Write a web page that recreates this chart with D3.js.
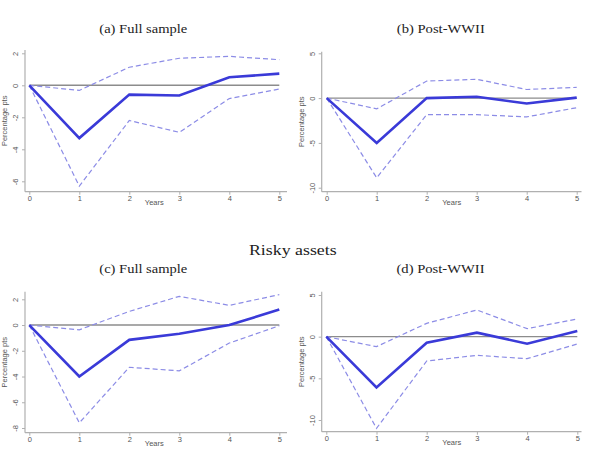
<!DOCTYPE html>
<html><head><meta charset="utf-8">
<script src="https://cdn.jsdelivr.net/npm/d3@7"></script>
<style>body{margin:0;background:#fff}svg{display:block}</style>
</head><body>
<script>
const years = [0, 1, 2, 3, 4, 5];
const aMean  = [0, -3.30, -0.58, -0.64, 0.50, 0.73];
const aUpper = [0, -0.32, 1.13, 1.69, 1.81, 1.60];
const aLower = [0, -6.30, -2.20, -2.94, -0.83, -0.23];
const bMean  = [0, -5.00, 0.00, 0.15, -0.60, 0.05];
const bUpper = [0, -1.20, 1.90, 2.10, 0.96, 1.20];
const bLower = [0, -8.90, -1.85, -1.85, -2.10, -1.07];
const cMean  = [0, -4.00, -1.15, -0.68, 0.00, 1.20];
const cUpper = [0, -0.37, 1.06, 2.23, 1.53, 2.36];
const cLower = [0, -7.60, -3.28, -3.56, -1.40, -0.05];
const dMean  = [0, -6.10, -0.72, 0.48, -0.84, 0.68];
const dUpper = [0, -1.20, 1.60, 3.20, 0.96, 2.12];
const dLower = [0, -11.0, -2.92, -2.24, -2.64, -0.88];
const aTicks = [-6, -4, -2, 0, 2];
const bTicks = [-10, -5, 0, 5];
const cTicks = [-8, -6, -4, -2, 0, 2];
const dTicks = [-10, -5, 0, 5];
const titles = ["(a) Full sample", "(b) Post-WWII", "(c) Full sample", "(d) Post-WWII"];
const sectionTitle = "Risky assets";
const xLabel = "Years";
const yLabel = "Percentage pts";

const W = 594, H = 457;
const svg = d3.select("body").append("svg").attr("width", W).attr("height", H);

// layout: box = axis-line extents; yd = tick domain mapped to yr pixel range
const panels = [
  {title: titles[0], mean: aMean, up: aUpper, lo: aLower, ticks: aTicks,
   box: [25, 287, 50, 191.7], xr: [29.3, 279.3], yd: [-6, 2], yr: [181.3, 53.3], tx: 143.3, ty: 33.3},
  {title: titles[1], mean: bMean, up: bUpper, lo: bLower, ticks: bTicks,
   box: [321.7, 581.5, 51.7, 191.7], xr: [326.7, 576.7], yd: [-10, 5], yr: [187.7, 53.3], tx: 440.8, ty: 33.3},
  {title: titles[2], mean: cMean, up: cUpper, lo: cLower, ticks: cTicks,
   box: [25, 287, 291.7, 432.7], xr: [29.3, 279.3], yd: [-8, 2], yr: [428, 299.3], tx: 143.3, ty: 273.3},
  {title: titles[3], mean: dMean, up: dUpper, lo: dLower, ticks: dTicks,
   box: [321.7, 581.5, 291.7, 431.7], xr: [326.3, 577.3], yd: [-10, 5], yr: [420, 295], tx: 440.5, ty: 273.3}
];

const serif = "'Liberation Serif','DejaVu Serif',serif";
const sans = "'Liberation Sans',Arial,sans-serif";
const axisCol = "#b0b0b0", labCol = "#555";

svg.append("text").attr("x", 292.8).attr("y", 255.3).attr("text-anchor", "middle")
  .attr("font-family", serif).attr("font-size", 15.5).attr("fill", "#222")
  .attr("textLength", 87.7).attr("lengthAdjust", "spacingAndGlyphs").text(sectionTitle);

panels.forEach(p => {
  const [x0, x1, y0, y1] = p.box;
  const x = d3.scaleLinear().domain([0, 5]).range(p.xr);
  const y = d3.scaleLinear().domain(p.yd).range(p.yr);
  const g = svg.append("g");

  g.append("text").attr("x", p.tx).attr("y", p.ty).attr("text-anchor", "middle")
    .attr("font-family", serif).attr("font-size", 13.5).attr("fill", "#222")
    .attr("textLength", 88).attr("lengthAdjust", "spacingAndGlyphs").text(p.title);

  // x axis
  const xa = g.append("g").attr("transform", `translate(0,${y1})`)
    .call(d3.axisBottom(x).tickValues(years).tickSize(3).tickSizeOuter(0).tickFormat(d => String(d)));
  xa.select(".domain").remove();
  xa.selectAll("line").attr("stroke", axisCol);
  xa.selectAll("text").attr("font-family", sans).attr("font-size", 7.5).attr("fill", labCol).attr("dy", "0.45em");
  g.append("line").attr("x1", x0).attr("x2", x1).attr("y1", y1).attr("y2", y1)
    .attr("stroke", axisCol).attr("stroke-width", 1.2);

  // y axis
  const ya = g.append("g").attr("transform", `translate(${x0},0)`)
    .call(d3.axisLeft(y).tickValues(p.ticks).tickSize(3).tickSizeOuter(0).tickFormat(d => String(d)));
  ya.select(".domain").remove();
  ya.selectAll("line").attr("stroke", axisCol);
  ya.selectAll("text").attr("font-family", sans).attr("font-size", 7.5).attr("fill", labCol)
    .attr("text-anchor", "middle").attr("x", null).attr("dy", null)
    .attr("transform", "translate(-9,0) rotate(-90)").attr("y", 0).attr("dominant-baseline", "middle");
  g.append("line").attr("x1", x0).attr("x2", x0).attr("y1", y0).attr("y2", y1)
    .attr("stroke", axisCol).attr("stroke-width", 1.2);

  // axis titles
  g.append("text").attr("x", (p.xr[0] + p.xr[1]) / 2).attr("y", y1 + 13)
    .attr("text-anchor", "middle").attr("font-family", sans).attr("font-size", 7.5).attr("fill", labCol).text(xLabel);
  g.append("text").attr("transform", `translate(${x0 - 18},${(y0 + y1) / 2}) rotate(-90)`)
    .attr("text-anchor", "middle").attr("font-family", sans).attr("font-size", 7.5).attr("fill", labCol).text(yLabel);

  // zero line
  g.append("line").attr("x1", x(0)).attr("x2", x(5)).attr("y1", y(0)).attr("y2", y(0))
    .attr("stroke", "#8c8c8c").attr("stroke-width", 1.4);

  const line = arr => d3.line().x((d, i) => x(years[i])).y(d => y(d))(arr);
  g.append("path").attr("d", line(p.up)).attr("fill", "none").attr("stroke", "#8c8ce6")
    .attr("stroke-width", 1.2).attr("stroke-dasharray", "5,3");
  g.append("path").attr("d", line(p.lo)).attr("fill", "none").attr("stroke", "#8c8ce6")
    .attr("stroke-width", 1.2).attr("stroke-dasharray", "5,3");
  g.append("path").attr("d", line(p.mean)).attr("fill", "none").attr("stroke", "#3a3ad8")
    .attr("stroke-width", 2.6).attr("stroke-linejoin", "miter");
});
</script>
</body></html>
